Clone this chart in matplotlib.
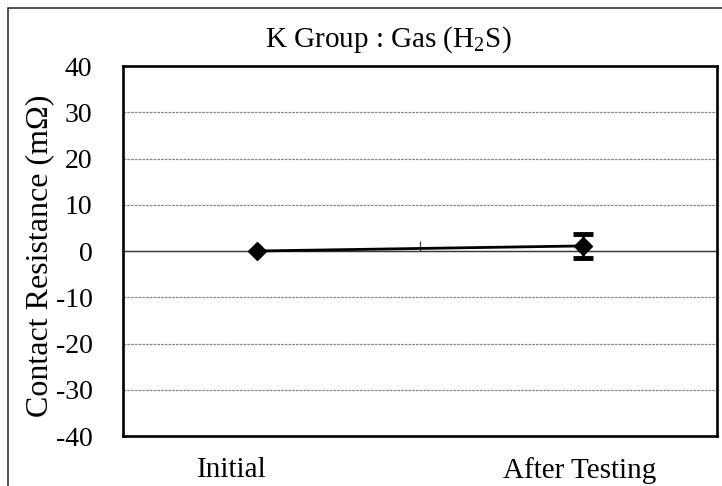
import numpy as np
import matplotlib.pyplot as plt
import matplotlib.transforms as mtransforms
from matplotlib.patches import Rectangle

plt.rcParams['font.family'] = ['Liberation Serif', 'DejaVu Serif']
plt.rcParams['mathtext.fontset'] = 'custom'
plt.rcParams['mathtext.rm'] = 'Liberation Serif'
plt.rcParams['axes.unicode_minus'] = False

categories = ['Initial', 'After Testing']
resistance = [0.0, 1.1]
error = [0.0, 2.65]
y_ticks = [-40, -30, -20, -10, 0, 10, 20, 30, 40]

fig = plt.figure(figsize=(7.22, 4.86), dpi=100)
ax = fig.add_axes([123 / 722, 50 / 486, 594 / 722, 370 / 486])

# outer chart border (only top/left visible in the original)
fig.patches.append(Rectangle((8 / 722, -0.1), 1.2, (478 / 486) + 0.1,
                             transform=fig.transFigure, fill=False,
                             edgecolor='#222222', linewidth=1.1))

x = np.arange(len(categories))
ax.plot(x, resistance, color='black', linewidth=2.0, zorder=3)
ax.errorbar(x[1:], resistance[1:], yerr=error[1:], fmt='none',
            ecolor='black', elinewidth=2.0, capsize=7, capthick=3.5, zorder=3)
ax.plot(x, resistance, linestyle='none', marker='D', markersize=9,
        color='black', zorder=4)

ax.set_xlim(-0.411, 1.411)
ax.set_ylim(-40, 40)
ax.set_yticks(y_ticks)
ax.set_xticks(x)
ax.set_xticklabels(categories)
ax.tick_params(axis='both', length=0)
ax.tick_params(axis='x', pad=15, labelsize=21)
ax.tick_params(axis='y', pad=22, labelsize=20)

# excel puts the category labels a bit left of the points
shifts = [-25, -3]
for lab, dx in zip(ax.get_xticklabels(), shifts):
    lab.set_transform(lab.get_transform() +
                      mtransforms.ScaledTranslation(dx / 100, 0, fig.dpi_scale_trans))

for v in y_ticks[1:-1]:
    if v != 0:
        ax.axhline(v, color='#8a8a8a', linewidth=0.9,
                   linestyle=(0, (2.2, 0.8)), zorder=1)
ax.axhline(0, color='#3a3a3a', linewidth=1.0, zorder=2)

# category axis crossing at zero, with its tick mark between categories
sec = ax.secondary_xaxis(0.5)
sec.set_xticks([0.5])
sec.set_xticklabels([])
sec.tick_params(direction='out', length=7, width=0.9, color='#3a3a3a')
sec.spines['bottom'].set_visible(False)

for s in ax.spines.values():
    s.set_linewidth(1.9)
    s.set_color('black')

fig.text(40 / 722, 1 - 256 / 486, 'Contact Resistance (m\u03a9)', fontsize=23,
         rotation=90, ha='center', va='center')
fig.text(388 / 722, 1 - 47 / 486, 'K Group : Gas (H$_2$S)', fontsize=21,
         ha='center', va='baseline')

fig.savefig('out.png', dpi=100)
